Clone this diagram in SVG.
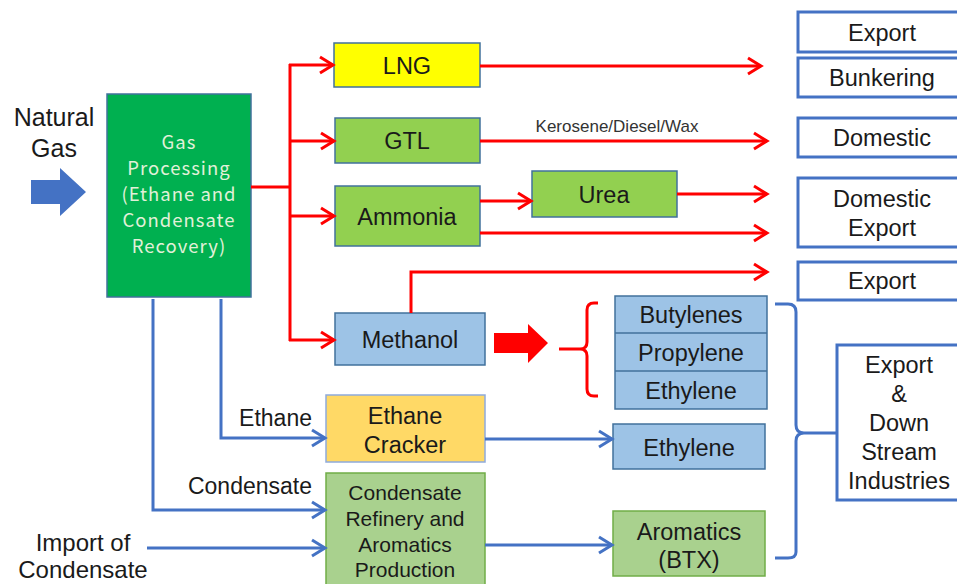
<svg xmlns="http://www.w3.org/2000/svg" width="957" height="584" viewBox="0 0 957 584">
  <defs>
    <style>
      .t { font-family: "Liberation Sans", Arial, sans-serif; fill: #1a1a1a; text-anchor: middle; font-size: 23.5px; }
      .box { stroke: #41719C; stroke-width: 1.5; }
      .out { fill: #ffffff; stroke: #4472C4; stroke-width: 3; }
      .red { fill: none; stroke: #FF0000; stroke-width: 3; }
      .blue { fill: none; stroke: #4472C4; stroke-width: 3; }
    </style>
    <marker id="ar" markerUnits="userSpaceOnUse" markerWidth="18" markerHeight="20" refX="15" refY="10" orient="auto">
      <path d="M2,2 L15,10 L2,18" fill="none" stroke="#FF0000" stroke-width="3"/>
    </marker>
    <marker id="ab" markerUnits="userSpaceOnUse" markerWidth="18" markerHeight="20" refX="15" refY="10" orient="auto">
      <path d="M2,2 L15,10 L2,18" fill="none" stroke="#4472C4" stroke-width="3"/>
    </marker>
  </defs>
  <rect width="957" height="584" fill="#ffffff"/>

  <!-- inputs -->
  <g id="natural-gas">
    <text class="t" x="54" y="126" style="font-size:25px">Natural</text>
    <text class="t" x="54" y="157" style="font-size:25px">Gas</text>
    <path d="M31,180 H60 V168 L86,192 L60,216 V204 H31 Z" fill="#4472C4"/>
  </g>
  <g id="import-condensate">
    <text class="t" x="83" y="551" style="font-size:24px">Import of</text>
    <text class="t" x="83" y="578" style="font-size:24px">Condensate</text>
  </g>

  <!-- processing -->
  <g id="gas-processing">
    <rect x="107" y="94" width="144" height="203" fill="#00B050" stroke="#41719C" stroke-width="1.5"/>
    <g font-family="'Noto Sans CJK JP', 'Noto Sans', sans-serif" font-size="18.5" fill="#E2F0D9" text-anchor="middle" letter-spacing="1">
      <text x="179" y="149">Gas</text>
      <text x="179" y="175">Processing</text>
      <text x="179" y="201">(Ethane and</text>
      <text x="179" y="227">Condensate</text>
      <text x="179" y="253">Recovery)</text>
    </g>
  </g>

  <g id="lng">
    <rect class="box" x="334" y="43" width="146" height="44" fill="#FFFF00"/>
    <text class="t" x="407" y="74">LNG</text>
  </g>
  <g id="gtl">
    <rect class="box" x="335" y="118" width="145" height="45" fill="#92D050"/>
    <text class="t" x="407" y="149">GTL</text>
  </g>
  <g id="ammonia">
    <rect class="box" x="335" y="186" width="145" height="60" fill="#92D050"/>
    <text class="t" x="407" y="225">Ammonia</text>
  </g>
  <g id="urea">
    <rect class="box" x="532" y="171" width="145" height="46" fill="#92D050"/>
    <text class="t" x="604" y="203">Urea</text>
  </g>
  <g id="methanol">
    <rect class="box" x="335" y="313" width="150" height="52" fill="#9DC3E6"/>
    <text class="t" x="410" y="348">Methanol</text>
  </g>
  <g id="olefins">
    <rect class="box" x="615" y="296" width="152" height="113" fill="#9DC3E6"/>
    <path d="M615,333 H767 M615,371 H767" stroke="#41719C" stroke-width="1.5"/>
    <text class="t" x="691" y="323">Butylenes</text>
    <text class="t" x="691" y="361">Propylene</text>
    <text class="t" x="691" y="399">Ethylene</text>
  </g>
  <g id="ethane-cracker">
    <rect x="326" y="395" width="159" height="67" fill="#FFD966" stroke="#8FAADC" stroke-width="1.5"/>
    <text class="t" x="405" y="424">Ethane</text>
    <text class="t" x="405" y="453">Cracker</text>
  </g>
  <g id="condensate-refinery">
    <rect x="326" y="473" width="159" height="120" fill="#A9D18E" stroke="#70AD47" stroke-width="1.5"/>
    <text class="t" x="405" y="500" style="font-size:21px">Condensate</text>
    <text class="t" x="405" y="526" style="font-size:21px">Refinery and</text>
    <text class="t" x="405" y="552" style="font-size:21px">Aromatics</text>
    <text class="t" x="405" y="577" style="font-size:21px">Production</text>
  </g>
  <g id="ethylene">
    <rect class="box" x="613" y="424" width="152" height="45" fill="#9DC3E6"/>
    <text class="t" x="689" y="456">Ethylene</text>
  </g>
  <g id="aromatics">
    <rect x="613" y="511" width="152" height="65" fill="#A9D18E" stroke="#70AD47" stroke-width="1.5"/>
    <text class="t" x="689" y="540">Aromatics</text>
    <text class="t" x="689" y="568">(BTX)</text>
  </g>

  <!-- destinations -->
  <g id="dest-export-1">
    <rect class="out" x="798" y="12" width="170" height="40"/>
    <text class="t" x="882" y="41">Export</text>
  </g>
  <g id="dest-bunkering">
    <rect class="out" x="798" y="58" width="170" height="39"/>
    <text class="t" x="882" y="86">Bunkering</text>
  </g>
  <g id="dest-domestic">
    <rect class="out" x="798" y="118" width="170" height="39"/>
    <text class="t" x="882" y="146">Domestic</text>
  </g>
  <g id="dest-domestic-export">
    <rect class="out" x="798" y="178" width="170" height="69"/>
    <text class="t" x="882" y="207">Domestic</text>
    <text class="t" x="882" y="236">Export</text>
  </g>
  <g id="dest-export-2">
    <rect class="out" x="798" y="262" width="170" height="38"/>
    <text class="t" x="882" y="289">Export</text>
  </g>
  <g id="dest-downstream">
    <rect class="out" x="837" y="345" width="140" height="155"/>
    <text class="t" x="899" y="373">Export</text>
    <text class="t" x="899" y="402">&amp;</text>
    <text class="t" x="899" y="431">Down</text>
    <text class="t" x="899" y="460">Stream</text>
    <text class="t" x="899" y="489">Industries</text>
  </g>

  <!-- connectors -->
  <g id="connectors">
    <!-- red trunk from gas processing -->
    <path class="red" d="M251,187 H290 M290,64 V341"/>
    <path class="red" d="M289,65 H333" marker-end="url(#ar)"/>
    <path class="red" d="M289,141 H334" marker-end="url(#ar)"/>
    <path class="red" d="M289,216 H334" marker-end="url(#ar)"/>
    <path class="red" d="M289,340 H334" marker-end="url(#ar)"/>
    <!-- product outflows -->
    <path class="red" d="M480,66 H761" marker-end="url(#ar)"/>
    <path class="red" d="M480,141 H767" marker-end="url(#ar)"/>
    <text x="617" y="132" font-family="'Liberation Sans', Arial, sans-serif" font-size="17" fill="#333333" text-anchor="middle">Kerosene/Diesel/Wax</text>
    <path class="red" d="M480,201 H531" marker-end="url(#ar)"/>
    <path class="red" d="M677,194 H767" marker-end="url(#ar)"/>
    <path class="red" d="M480,233 H767" marker-end="url(#ar)"/>
    <path class="red" d="M411,313 V272 H767" marker-end="url(#ar)"/>
    <!-- methanol to olefins -->
    <path d="M494,333 H528 V324 L548,343 L528,363 V353 H494 Z" fill="#FF0000"/>
    <path class="red" d="M559,349 H580 Q587,349 587,342 V310 Q587,303 594,303 H598 M587,356 V389 Q587,396 594,396 H598 M580,349 Q587,349 587,356"/>
    <!-- blue feeds -->
    <path class="blue" d="M221,299 V438 H325" marker-end="url(#ab)"/>
    <text x="312" y="426" font-family="'Liberation Sans', Arial, sans-serif" font-size="23" fill="#1a1a1a" text-anchor="end">Ethane</text>
    <path class="blue" d="M153,299 V510 H325" marker-end="url(#ab)"/>
    <text x="312" y="494" font-family="'Liberation Sans', Arial, sans-serif" font-size="23" fill="#1a1a1a" text-anchor="end">Condensate</text>
    <path class="blue" d="M147,548 H325" marker-end="url(#ab)"/>
    <path class="blue" d="M485,439 H612" marker-end="url(#ab)"/>
    <path class="blue" d="M485,545 H612" marker-end="url(#ab)"/>
    <!-- brace to downstream -->
    <path class="blue" d="M775,304 H788 Q796,304 796,312 V425 Q796,433 804,433 H836 M804,433 Q796,433 796,441 V552 Q796,558 788,558 H775"/>
  </g>
</svg>
